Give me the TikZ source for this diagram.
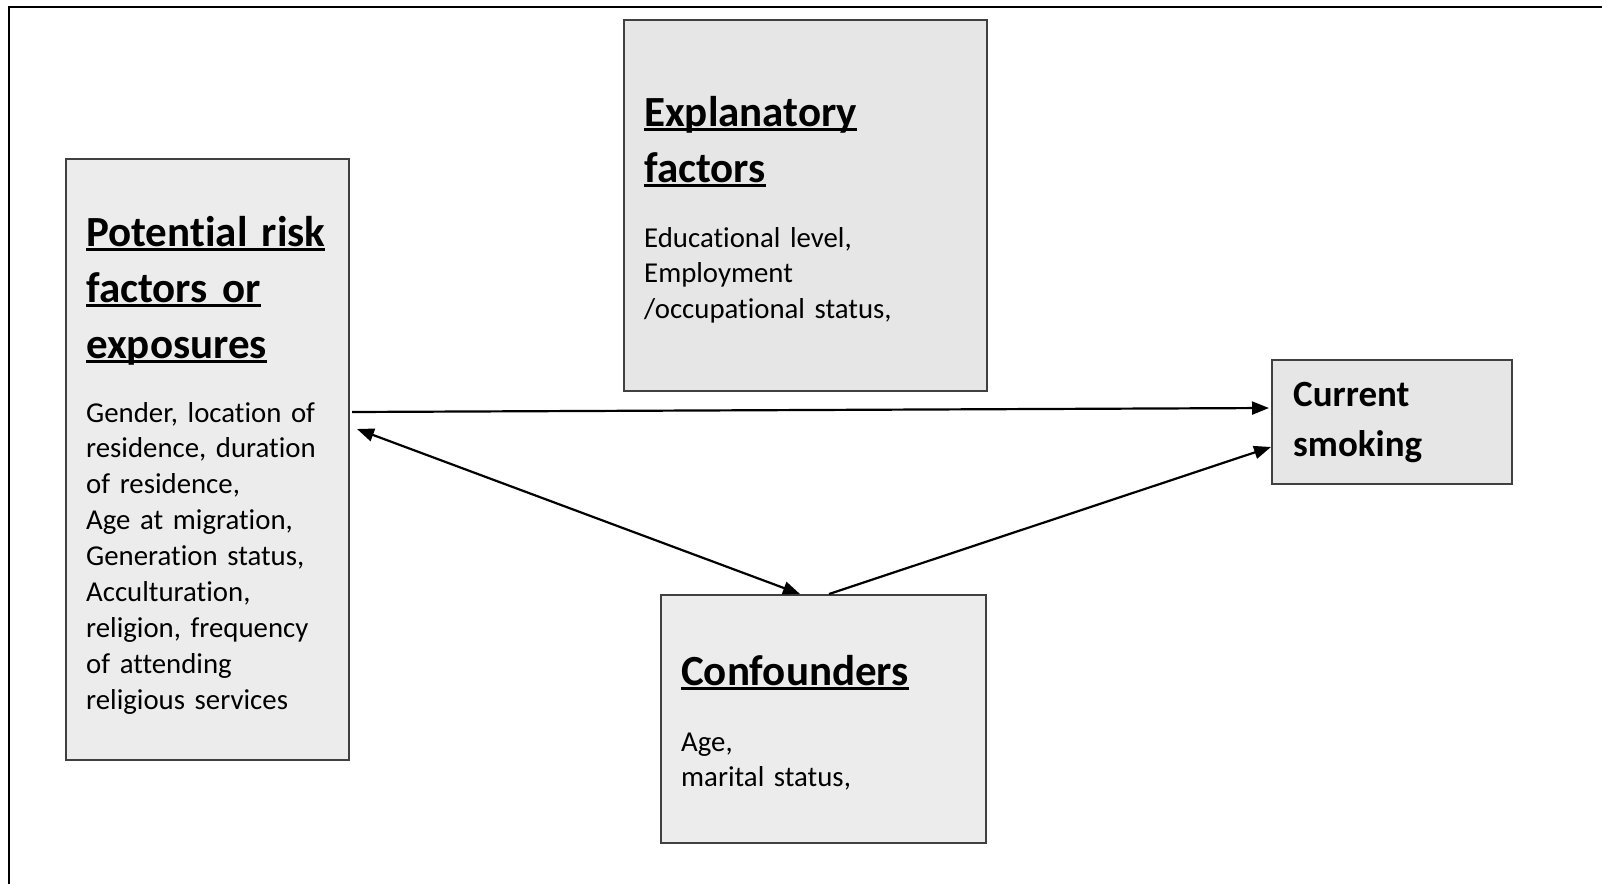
\documentclass[tikz,border=0pt]{standalone}
\usepackage{fontspec}
\setmainfont{Carlito}[Ligatures=NoCommon]
\usetikzlibrary{arrows.meta}
\definecolor{boxA}{RGB}{236,236,236}
\definecolor{boxB}{RGB}{230,230,230}
\newsavebox{\ulbox}
\newcommand{\myul}[1]{\leavevmode\sbox{\ulbox}{#1}\rlap{\usebox{\ulbox}}\rule[-5pt]{\wd\ulbox}{3.2pt}}
\tikzset{
  box/.style={draw=black!75, line width=1.1pt, rectangle, anchor=north west, inner sep=0pt, outer sep=0pt},
  ttl/.style={anchor=base west, inner sep=0pt, text width=330pt, align=left, font=\bfseries\fontsize{43}{56}\selectfont},
  bdy/.style={anchor=base west, inner sep=0pt, text width=330pt, align=left, font=\fontsize{28.8}{35.9}\selectfont},
  arr/.style={line width=2.2pt, -{Triangle[length=17pt,width=13pt]}},
  darr/.style={line width=2.2pt, {Triangle[length=17pt,width=13pt]}-{Triangle[length=17pt,width=13pt]}},
}
\begin{document}
\begin{tikzpicture}[x=1pt,y=-1pt]
\useasboundingbox (0,0) rectangle (1602,883);
% outer frame (only left and top edges visible)
\draw[line width=2.6pt] (9,900) -- (9,7) -- (1620,7);
% boxes
\node[box, fill=boxA, minimum width=283pt, minimum height=601pt] (risk) at (66,159) {};
\node[box, fill=boxB, minimum width=363pt, minimum height=371pt] (expl) at (624,20) {};
\node[box, fill=boxB, minimum width=240pt, minimum height=124pt] (smok) at (1272,360) {};
\node[box, fill=boxA, minimum width=325pt, minimum height=248pt] (conf) at (661,595) {};
% texts
\node[ttl] (riskT) at (86,246) {\myul{Potential risk}\\\myul{factors or}\\\myul{exposures}};
\node[bdy] (riskB) at (86,422) {Gender, location of\\residence, duration\\of residence,\\Age at migration,\\Generation status,\\Acculturation,\\religion, frequency\\of attending\\religious services};
\node[ttl] (explT) at (644,126) {\myul{Explanatory}\\\myul{factors}};
\node[bdy] (explB) at (644,247) {Educational level,\\Employment\\/occupational status,};
\node[ttl, font=\bfseries\fontsize{37}{50}\selectfont] (smokT) at (1293,406) {Current\\smoking};
\node[ttl] (confT) at (681,685) {\myul{Confounders}};
\node[bdy] (confB) at (681,751) {Age,\\marital status,};
% arrow end points
\coordinate (a1s) at ([xshift=3pt]risk.east |- 0,412);
\coordinate (a1e) at ([xshift=-3pt]smok.west |- 0,408);
\coordinate (a2s) at ([xshift=8pt]risk.east |- 0,429);
\coordinate (a2e) at ([yshift=1pt]conf.north west -| 800,0);
\coordinate (a3s) at ([yshift=1pt]conf.north west -| 829,0);
\coordinate (a3e) at ([xshift=-1pt]smok.west |- 0,447);
\draw[arr] (a1s) -- (a1e);
\draw[darr] (a2s) -- (a2e);
\draw[arr] (a3s) -- (a3e);
\end{tikzpicture}
\end{document}
